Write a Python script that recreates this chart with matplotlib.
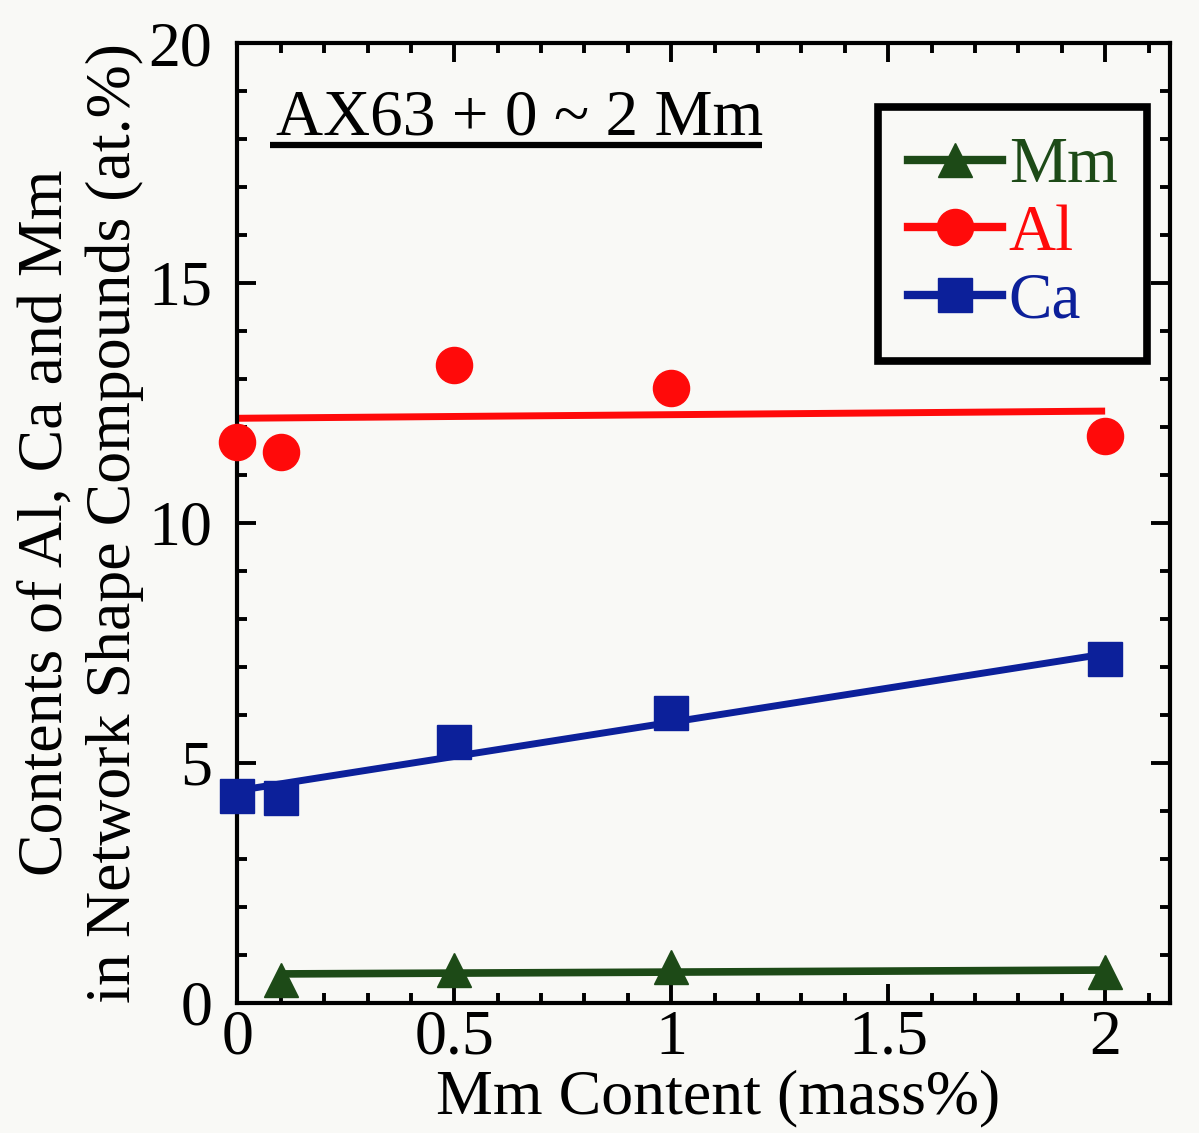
import matplotlib
matplotlib.use("Agg")
import matplotlib.pyplot as plt
from matplotlib.lines import Line2D
from matplotlib.ticker import MultipleLocator

plt.rcParams['font.family'] = ['Liberation Serif', 'DejaVu Serif']

# ---- data ----
mm_x = [0.1, 0.5, 1.0, 2.0]
mm_y = [0.47, 0.68, 0.75, 0.65]
mm_fit_x = [0.1, 2.0]
mm_fit_y = [0.60, 0.68]

al_x = [0.0, 0.1, 0.5, 1.0, 2.0]
al_y = [11.68, 11.47, 13.28, 12.81, 11.82]
al_fit_x = [0.0, 2.0]
al_fit_y = [12.18, 12.33]

ca_x = [0.0, 0.1, 0.5, 1.0, 2.0]
ca_y = [4.30, 4.26, 5.43, 6.03, 7.17]
ca_fit_x = [0.0, 2.0]
ca_fit_y = [4.42, 7.27]

x_ticks = [0, 0.5, 1, 1.5, 2]
x_ticklabels = ['0', '0.5', '1', '1.5', '2']
y_ticks = [0, 5, 10, 15, 20]
y_ticklabels = ['0', '5', '10', '15', '20']

c_mm = '#1d4a17'
c_al = '#ff0a0a'
c_ca = '#0c209a'

bg = '#f9f9f6'
FS = 46
fig = plt.figure(figsize=(11.99, 11.33), dpi=100, facecolor=bg)
ax = fig.add_axes([0.198, 0.115, 0.778, 0.847], facecolor=bg)

# fit lines
ax.plot(mm_fit_x, mm_fit_y, color=c_mm, lw=5.5, solid_capstyle='butt', zorder=2)
ax.plot(al_fit_x, al_fit_y, color=c_al, lw=5, solid_capstyle='butt', zorder=2)
ax.plot(ca_fit_x, ca_fit_y, color=c_ca, lw=5, solid_capstyle='butt', zorder=2)

# markers
ax.plot(mm_x, mm_y, ls='none', marker='^', ms=25, color=c_mm, mec=c_mm, clip_on=False, zorder=3)
ax.plot(al_x, al_y, ls='none', marker='o', ms=26, color=c_al, mec=c_al, clip_on=False, zorder=3)
ax.plot(ca_x, ca_y, ls='none', marker='s', ms=25, color=c_ca, mec=c_ca, clip_on=False, zorder=3)

ax.set_xlim(0, 2.15)
ax.set_ylim(0, 20)
ax.set_xticks(x_ticks)
ax.set_xticklabels(x_ticklabels)
ax.set_yticks(y_ticks)
ax.set_yticklabels(y_ticklabels)
ax.xaxis.set_minor_locator(MultipleLocator(0.1))
ax.yaxis.set_minor_locator(MultipleLocator(1))

ax.tick_params(which='both', direction='in', top=True, right=True, width=2.8, colors='black')
ax.tick_params(which='major', length=14, labelsize=FS)
ax.tick_params(which='minor', length=7.5)
ax.tick_params(axis='x', which='major', pad=5)
ax.tick_params(axis='y', which='major', pad=18)
for s in ax.spines.values():
    s.set_linewidth(3)
    s.set_color('black')

ax.set_xlabel('Mm Content (mass%)', fontsize=FS, labelpad=0)
ax.xaxis.set_label_coords(0.515, -0.07)
ax.set_ylabel('Contents of Al, Ca and Mm\nin Network Shape Compounds (at.%)',
              fontsize=FS, linespacing=1.22)
ax.yaxis.set_label_coords(-0.1, 0.5)

# title with underline
ax.text(0.65, 18.1, 'AX63 + 0 ~ 2 Mm', fontsize=FS + 1, ha='center', va='baseline', zorder=4)
ax.plot([0.076, 1.21], [17.88, 17.88], color='black', lw=4.5, solid_capstyle='butt', zorder=4)

handles = [
    Line2D([], [], color=c_mm, lw=6, marker='^', ms=25, mec=c_mm),
    Line2D([], [], color=c_al, lw=6, marker='o', ms=26, mec=c_al),
    Line2D([], [], color=c_ca, lw=6, marker='s', ms=25, mec=c_ca),
]
leg = ax.legend(handles, ['Mm', 'Al', 'Ca'], loc='upper right',
                bbox_to_anchor=(0.975, 0.933), borderaxespad=0, fontsize=FS + 1,
                handlelength=1.45, handletextpad=0.1, labelspacing=0.12,
                borderpad=0.45, fancybox=False, framealpha=1, facecolor=bg,
                edgecolor='black', labelcolor='linecolor')
leg.get_frame().set_linewidth(5.5)

fig.savefig('out.png', dpi=100, facecolor=bg)
